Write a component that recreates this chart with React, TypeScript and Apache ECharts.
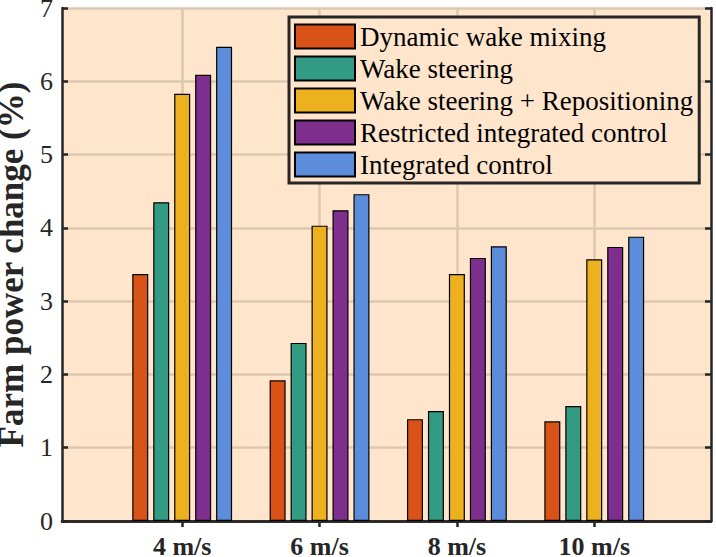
import React, { useEffect, useRef } from "react";
import * as echarts from "echarts";

const categories = ["4 m/s", "6 m/s", "8 m/s", "10 m/s"];
const categoryPositions = [1, 2, 3, 4];
const seriesNames = [
  "Dynamic wake mixing",
  "Wake steering",
  "Wake steering + Repositioning",
  "Restricted integrated control",
  "Integrated control",
];
const dynamicWakeMixing = [3.37, 1.92, 1.39, 1.36];
const wakeSteering = [4.35, 2.43, 1.5, 1.57];
const wakeSteeringRepositioning = [5.83, 4.03, 3.37, 3.57];
const restrictedIntegrated = [6.09, 4.24, 3.59, 3.74];
const integratedControl = [6.47, 4.46, 3.75, 3.88];
const seriesValues = [
  dynamicWakeMixing,
  wakeSteering,
  wakeSteeringRepositioning,
  restrictedIntegrated,
  integratedControl,
];
const colors = ["#D95319", "#339A83", "#EDB120", "#7E2F8E", "#5B8DDB"];
const yTicks = [0, 1, 2, 3, 4, 5, 6, 7];

const FONT = "Liberation Serif";
const AX = "#262626";

export default function App() {
  const ref = useRef<HTMLDivElement>(null);
  useEffect(() => {
    document.body.style.margin = "0";
    const chart = echarts.init(ref.current!, null, { renderer: "svg" });
    const xCommon = {
      type: "value" as const,
      min: 0.125,
      max: 4.85,
      axisLine: { show: true, lineStyle: { color: AX, width: 2.5 } },
    };
    const yCommon = {
      type: "value" as const,
      min: yTicks[0],
      max: yTicks[yTicks.length - 1],
      interval: 1,
      axisLine: { show: true, lineStyle: { color: AX, width: 2.5 } },
    };
    chart.setOption({
      animation: false,
      backgroundColor: "#ffffff",
      textStyle: { fontFamily: FONT },
      grid: {
        left: 62,
        right: 5,
        top: 8,
        bottom: 36,
        containLabel: false,
        outerBoundsMode: "none",
        show: true,
        backgroundColor: "#FFE5CC",
        borderWidth: 0,
      },
      legend: {
        orient: "vertical",
        left: 289,
        top: 17,
        backgroundColor: "#FFE5CC",
        borderColor: AX,
        borderWidth: 3,
        borderRadius: 0,
        padding: [6, 6, 5, 5],
        icon: "rect",
        itemWidth: 60,
        itemHeight: 24,
        itemGap: 5,
        textStyle: { fontFamily: FONT, fontSize: 27, color: "#000" },
        data: seriesNames,
      },
      xAxis: [
        {
          ...xCommon,
          position: "bottom",
          axisTick: {
            show: true,
            inside: true,
            length: 6,
            customValues: categoryPositions,
            lineStyle: { color: AX, width: 2.5 },
          },
          axisLabel: {
            show: true,
            customValues: categoryPositions,
            formatter: (v: number) => categories[categoryPositions.indexOf(v)] ?? "",
            fontFamily: FONT,
            fontSize: 26,
            lineHeight: 22,
            fontWeight: "bold",
            color: AX,
            margin: 14,
          },
          splitLine: { show: true, lineStyle: { color: "#DCC7B1", width: 2.5 } },
        },
        {
          ...xCommon,
          position: "top",
          axisTick: {
            show: true,
            inside: true,
            length: 6,
            customValues: categoryPositions,
            lineStyle: { color: AX, width: 2.5 },
          },
          axisLabel: { show: false },
          splitLine: { show: false },
        },
      ],
      yAxis: [
        {
          ...yCommon,
          position: "left",
          name: "Farm power change (%)",
          nameLocation: "middle",
          nameGap: 35,
          nameTextStyle: {
            fontFamily: FONT,
            fontSize: 35,
            lineHeight: 28,
            fontWeight: "bold",
            color: AX,
          },
          axisTick: { show: true, inside: true, length: 6, lineStyle: { color: AX, width: 2.5 } },
          axisLabel: { fontFamily: FONT, fontSize: 26, lineHeight: 18, color: AX, margin: 9 },
          splitLine: { show: true, lineStyle: { color: "#DCC7B1", width: 2.5 } },
        },
        {
          ...yCommon,
          position: "right",
          axisTick: { show: true, inside: true, length: 6, lineStyle: { color: AX, width: 2.5 } },
          axisLabel: { show: false },
          splitLine: { show: false },
        },
      ],
      series: seriesNames.map((name, i) => ({
        name,
        type: "bar",
        xAxisIndex: 0,
        yAxisIndex: 0,
        barWidth: 16,
        barGap: "31%",
        itemStyle: { color: colors[i], borderColor: "#000", borderWidth: 1.2 },
        data: seriesValues[i].map((v, j) => [categoryPositions[j], v]),
      })),
    });
    return () => chart.dispose();
  }, []);
  return <div ref={ref} style={{ width: 716, height: 557 }} />;
}
